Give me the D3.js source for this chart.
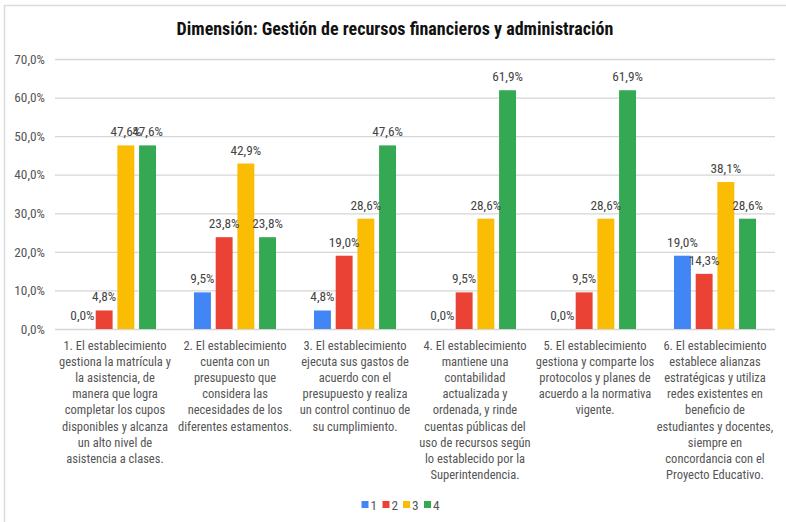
<!DOCTYPE html>
<html><head><meta charset="utf-8">
<script src="https://cdn.jsdelivr.net/npm/d3@7"></script>
<style>
html,body{margin:0;padding:0;background:#fff;}
svg{display:block;}
text{font-family:"Liberation Sans Narrow","Arial Narrow","Roboto Condensed","Liberation Sans",Arial,sans-serif;}
</style></head>
<body>
<svg id="chart" width="786" height="522"></svg>
<script>
const title = "Dimensión: Gestión de recursos financieros y administración";
const categories = [
  "1. El establecimiento\ngestiona la matrícula y\nla asistencia, de\nmanera que logra\ncompletar los cupos\ndisponibles y alcanza\nun alto nivel de\nasistencia a clases.",
  "2. El establecimiento\ncuenta con un\npresupuesto que\nconsidera las\nnecesidades de los\ndiferentes estamentos.",
  "3. El establecimiento\nejecuta sus gastos de\nacuerdo con el\npresupuesto y realiza\nun control continuo de\nsu cumplimiento.",
  "4. El establecimiento\nmantiene una\ncontabilidad\nactualizada y\nordenada, y rinde\ncuentas públicas del\nuso de recursos según\nlo establecido por la\nSuperintendencia.",
  "5. El establecimiento\ngestiona y comparte los\nprotocolos y planes de\nacuerdo a la normativa\nvigente.",
  "6. El establecimiento\nestablece alianzas\nestratégicas y utiliza\nredes existentes en\nbeneficio de\nestudiantes y docentes,\nsiempre en\nconcordancia con el\nProyecto Educativo."
];
const seriesNames = ["1", "2", "3", "4"];
const series1 = [0.0, 9.5, 4.8, 0.0, 0.0, 19.0];
const series2 = [4.8, 23.8, 19.0, 9.5, 9.5, 14.3];
const series3 = [47.6, 42.9, 28.6, 28.6, 28.6, 38.1];
const series4 = [47.6, 23.8, 47.6, 61.9, 61.9, 28.6];
const colors = ["#4285F4", "#EA4335", "#FBBC04", "#34A853"];
const yTicks = [0, 10, 20, 30, 40, 50, 60, 70];

const seriesValues = [series1, series2, series3, series4];
const fmt = v => v.toFixed(1).replace(".", ",") + "%";

const svg = d3.select("#chart");
svg.append("path").attr("d", "M4.5,522 V5.5 H786").attr("fill", "none")
   .attr("stroke", "#dcdcdc").attr("stroke-width", 1.5);

const pLeft = 55, pRight = 775, pTop = 59, pBottom = 329;
const y = d3.scaleLinear().domain([0, 70]).range([pBottom, pTop]);
const x0 = d3.scaleBand().domain(d3.range(categories.length)).range([pLeft, pRight]);
const x1 = d3.scaleBand().domain(seriesNames).range([0, x0.bandwidth()])
  .paddingInner(0.22).paddingOuter(0.875);

svg.append("text").attr("x", 395).attr("y", 35).attr("text-anchor", "middle")
  .attr("font-size", 18).attr("font-weight", "bold").attr("fill", "#111").text(title);

const yAxis = d3.axisLeft(y).tickValues(yTicks).tickSize(-(pRight - pLeft)).tickFormat(d => fmt(d));
const gy = svg.append("g").attr("transform", `translate(${pLeft},0)`).call(yAxis);
gy.select(".domain").remove();
gy.selectAll(".tick line").attr("stroke", "#d6d6d6").attr("stroke-width", 1.3);
gy.selectAll(".tick text").attr("x", -10).attr("font-size", 13.3).attr("fill", "#555");
gy.attr("font-family", null);

const groups = svg.append("g").selectAll("g").data(categories).join("g")
  .attr("transform", (d, i) => `translate(${x0(i)},0)`);
groups.each(function(d, i) {
  const g = d3.select(this);
  seriesNames.forEach((s, j) => {
    const v = seriesValues[j][i];
    g.append("rect").attr("x", x1(s)).attr("y", y(v)).attr("width", x1.bandwidth())
      .attr("height", pBottom - y(v)).attr("fill", colors[j]);
  });
  seriesNames.forEach((s, j) => {
    const v = seriesValues[j][i];
    g.append("text").attr("x", x1(s) + x1.bandwidth() / 2).attr("y", y(v) - 9)
      .attr("text-anchor", "middle").attr("font-size", 13.3).attr("fill", "#444").text(fmt(v));
  });
  const lines = d.split("\n");
  const t = g.append("text").attr("text-anchor", "middle").attr("font-size", 12.5).attr("fill", "#555");
  lines.forEach((ln, k) => {
    t.append("tspan").attr("x", x0.bandwidth() / 2).attr("y", 349.5 + k * 16.2).text(ln);
  });
});

const legX = [361.5, 382.5, 403, 424];
const leg = svg.append("g");
seriesNames.forEach((s, j) => {
  leg.append("rect").attr("x", legX[j]).attr("y", 501).attr("width", 7).attr("height", 7).attr("fill", colors[j]);
  leg.append("text").attr("x", legX[j] + 9).attr("y", 510).attr("font-size", 13.3).attr("fill", "#555").text(s);
});
</script>
</body></html>
